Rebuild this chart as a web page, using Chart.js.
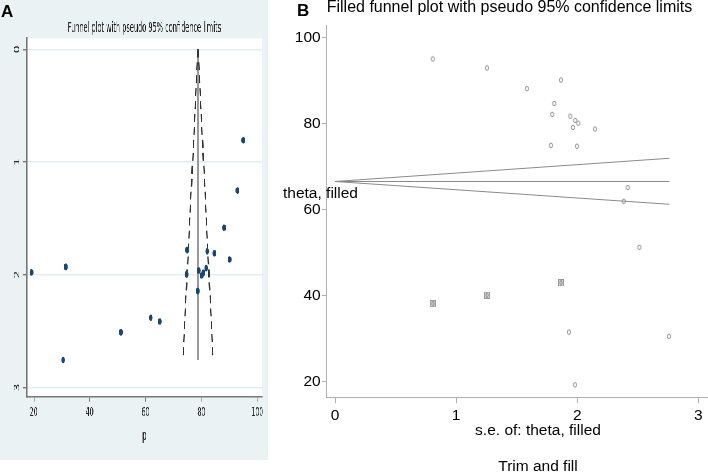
<!DOCTYPE html>
<html>
<head>
<meta charset="utf-8">
<script src="https://cdn.jsdelivr.net/npm/chart.js@4"></script>
<style>
  html, body { margin:0; padding:0; background:#fff; }
  body { width:708px; height:473px; overflow:hidden; position:relative; font-family:'Liberation Sans', Arial, sans-serif; }
  #wrapA { position:absolute; left:0; top:0; width:487px; height:460px; background:#eaf2f3; transform:scaleX(0.55); transform-origin:0 0; }
  #wrapB { position:absolute; left:280px; top:0; width:480px; height:480px; }
  .panel { position:absolute; font-weight:bold; color:#000; font-family:'Liberation Sans', Arial, sans-serif; }
</style>
</head>
<body>
<div id="wrapA"><canvas id="chartA" width="487" height="460"></canvas></div>
<div id="wrapB"><canvas id="chartB" width="480" height="480"></canvas></div>
<div class="panel" style="left:1px; top:2px; font-size:17px;">A</div>
<div class="panel" style="left:297px; top:1px; font-size:17px;">B</div>
<script>
// ---- data ----
// observed studies: standard error and proportion p
const studySE = [0.807, 1.254, 1.584, 1.865, 1.810, 1.793, 1.942, 1.983, 2.008, 1.964, 2.146, 1.782, 1.997, 2.416, 2.383, 2.512, 1.931, 2.757, 1.980];
const studyP  = [95.0, 92.9, 88.1, 90.1, 84.65, 82.1, 81.7, 80.7, 80.07, 79.07, 78.7, 74.9, 74.7, 65.1, 61.9, 51.2, 31.47, 30.5, 19.2];
// imputed (filled) studies
const filledSE = [0.807, 1.254, 1.865];
const filledP  = [38.05, 40.07, 42.93];
// panel A funnel (pooled estimate and pseudo 95% limits)
const funnelA_SE = [0, 2.757];
const funnelA_center = [78.8, 78.8];
const funnelA_lower = [78.8, 73.4];
const funnelA_upper = [78.8, 84.2];
// panel B filled funnel
const funnelB_SE = [0, 2.76];
const funnelB_theta = [66.5, 66.5];
const funnelB_lower = [66.5, 61.2];
const funnelB_upper = [66.5, 71.9];
// tick settings
const ticksA_x = [20, 40, 60, 80, 100];
const ticksA_y = [0, 1, 2, 3];
const ticksB_x = [0, 1, 2, 3];
const ticksB_y = [20, 40, 60, 80, 100];

const pts = (xs, ys) => xs.map((x, i) => ({x: x, y: ys[i]}));
const ptsA = (ps, ses) => ps.map((p, i) => ({x: p, y: ses[i]}));

// marker images for panel B
function circleImg() {
  const c = document.createElement('canvas'); c.width = 6; c.height = 7;
  const g = c.getContext('2d');
  g.strokeStyle = '#8e8e8e'; g.lineWidth = 1;
  g.beginPath(); g.ellipse(3, 3.5, 1.6, 2.3, 0, 0, Math.PI * 2); g.stroke();
  return c;
}
function filledImg() {
  const c = document.createElement('canvas'); c.width = 6; c.height = 7;
  const g = c.getContext('2d');
  g.fillStyle = '#ececec'; g.fillRect(0, 0, 6, 7);
  g.strokeStyle = '#9a9a9a'; g.lineWidth = 1;
  g.strokeRect(0.5, 0.5, 5, 6);
  g.strokeStyle = '#7a7a7a';
  g.beginPath(); g.ellipse(3, 3.5, 1.2, 1.9, 0, 0, Math.PI * 2); g.stroke();
  return c;
}

const plotBg = {
  id: 'plotBg',
  beforeDraw(chart, args, opts) {
    if (!opts.color) return;
    const a = chart.chartArea, ctx = chart.ctx;
    ctx.save(); ctx.fillStyle = opts.color;
    ctx.fillRect(a.left, a.top, a.right - a.left, a.bottom - a.top);
    ctx.restore();
  }
};

const thetaLabel = {
  id: 'thetaLabel',
  afterDraw(chart, args, opts) {
    if (!opts.text) return;
    const ctx = chart.ctx;
    const y = chart.scales.y.getPixelForValue(opts.value);
    ctx.save();
    ctx.font = '15.5px "Liberation Sans", Arial, sans-serif';
    ctx.fillStyle = '#000'; ctx.textBaseline = 'middle'; ctx.textAlign = 'left';
    ctx.fillText(opts.text, 3, y + 12);
    ctx.restore();
  }
};

const fontA = "'Liberation Sans Narrow', 'Arial Narrow', 'DejaVu Sans Condensed', 'Liberation Sans', sans-serif";
const fontB = "'Liberation Sans', Arial, sans-serif";

new Chart(document.getElementById('chartA'), {
  type: 'scatter',
  data: {
    datasets: [
      { data: ptsA(studyP, studySE), order: 0, pointRadius: 3.3, pointHoverRadius: 3.3, backgroundColor: '#1a476f', borderColor: '#1a476f', borderWidth: 0 },
      { data: ptsA(funnelA_lower, funnelA_SE), order: 1, showLine: true, pointRadius: 0, borderColor: '#333', borderWidth: 2.4, borderDash: [8, 5] },
      { data: ptsA(funnelA_upper, funnelA_SE), order: 1, showLine: true, pointRadius: 0, borderColor: '#333', borderWidth: 2.4, borderDash: [8, 5] },
      { data: ptsA(funnelA_center, funnelA_SE), order: 2, showLine: true, pointRadius: 0, borderColor: '#999', borderWidth: 2.4 }
    ]
  },
  options: {
    responsive: false, animation: false, devicePixelRatio: 1,
    layout: { padding: { left: 0, right: 10.6, top: 0, bottom: 0 } },
    plugins: {
      legend: { display: false }, tooltip: { enabled: false },
      plotBg: { color: '#ffffff' },
      title: { display: true, text: 'Funnel plot with pseudo 95% confidence limits', fullSize: false, color: '#1a1a1a',
               font: { family: fontA, size: 13.3, weight: 'normal', lineHeight: 1.2 }, padding: { top: 21, bottom: 1.3 } }
    },
    scales: {
      x: {
        type: 'linear', min: 17.48, max: 101.7,
        afterFit(s) { s.height = 63.3; },
        afterBuildTicks(s) { s.ticks = ticksA_x.map(v => ({value: v})); },
        ticks: { color: '#222', font: { family: fontA, size: 12.5 }, padding: 3.5 },
        grid: { drawOnChartArea: false, tickLength: 5, color: '#777', lineWidth: 1.6 },
        border: { color: '#777', width: 1.6 },
        title: { display: true, text: 'p', color: '#222', font: { family: fontA, size: 14, lineHeight: 1.2 }, padding: { top: 0, bottom: 14.8 } }
      },
      y: {
        type: 'linear', reverse: true, min: -0.098, max: 3.083,
        afterFit(s) { s.width = 48.5; },
        afterBuildTicks(s) { s.ticks = ticksA_y.map(v => ({value: v})); },
        ticks: { color: '#222', font: { family: fontA, size: 13.5 }, minRotation: 90, maxRotation: 90, crossAlign: 'center', padding: 6.5 },
        grid: { color: '#e3edf1', lineWidth: 1.4, tickColor: '#777', tickLength: 7 },
        border: { color: '#777', width: 1.6 }
      }
    }
  },
  plugins: [plotBg]
});

new Chart(document.getElementById('chartB'), {
  type: 'scatter',
  data: {
    datasets: [
      { data: pts(funnelB_SE, funnelB_theta), showLine: true, pointRadius: 0, borderColor: '#8a8a8a', borderWidth: 1 },
      { data: pts(funnelB_SE, funnelB_lower), showLine: true, pointRadius: 0, borderColor: '#8a8a8a', borderWidth: 1 },
      { data: pts(funnelB_SE, funnelB_upper), showLine: true, pointRadius: 0, borderColor: '#8a8a8a', borderWidth: 1 },
      { data: pts(studySE, studyP), pointStyle: circleImg(), pointRadius: 3 },
      { data: pts(filledSE, filledP), pointStyle: filledImg(), pointRadius: 4 }
    ]
  },
  options: {
    responsive: false, animation: false, devicePixelRatio: 1,
    layout: { padding: { left: 0, right: 10.7, top: 0, bottom: 0 } },
    plugins: {
      legend: { display: false }, tooltip: { enabled: false },
      thetaLabel: { text: 'theta, filled', value: 66.5 },
      title: { display: true, text: 'Filled funnel plot with pseudo 95% confidence limits', fullSize: false, align: 'start', color: '#000',
               font: { family: fontB, size: 16, weight: 'normal', lineHeight: 0.9 }, padding: { top: 0.5, bottom: 10.1 } }
    },
    scales: {
      x: {
        type: 'linear', min: -0.069, max: 3.42,
        afterFit(s) { s.height = 82.7; },
        afterBuildTicks(s) { s.ticks = ticksB_x.map(v => ({value: v})); },
        ticks: { color: '#000', font: { family: fontB, size: 15.5 }, padding: 3 },
        grid: { drawOnChartArea: false, tickLength: 6, color: '#b0b0b0' },
        border: { color: '#b0b0b0' },
        title: { display: true, text: ['s.e. of: theta, filled', '', 'Trim and fill'], color: '#000',
                 font: { family: fontB, size: 15.5, lineHeight: 1.17 }, padding: { top: 0, bottom: 3.9 } }
      },
      y: {
        type: 'linear', min: 16.3, max: 102.9,
        afterFit(s) { s.width = 46.7; },
        afterBuildTicks(s) { s.ticks = ticksB_y.map(v => ({value: v})); },
        ticks: { color: '#000', font: { family: fontB, size: 15.5 }, padding: 1 },
        grid: { drawOnChartArea: false, tickLength: 5, color: '#b0b0b0' },
        border: { color: '#b0b0b0' }
      }
    }
  },
  plugins: [thetaLabel]
});
</script>
</body>
</html>
